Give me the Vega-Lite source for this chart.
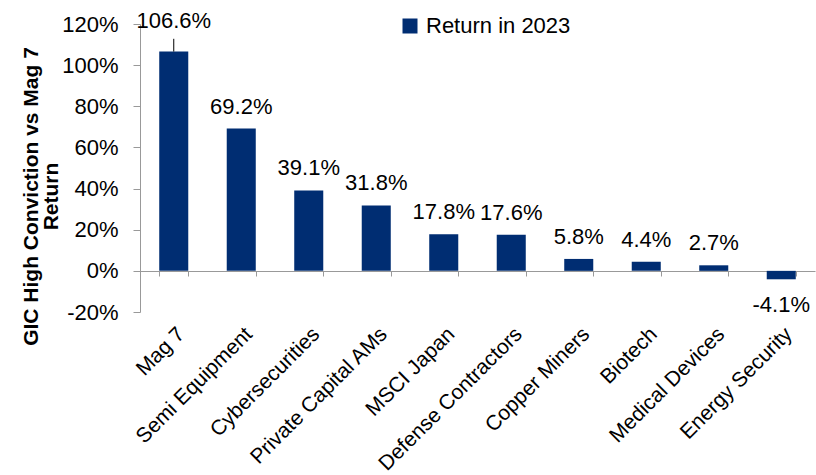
{
  "$schema": "https://vega.github.io/schema/vega-lite/v6.json",
  "width": 675,
  "height": 288,
  "autosize": {"type": "none"},
  "padding": {"left": 140, "top": 24, "right": 1, "bottom": 163},
  "background": "white",
  "config": {
    "font": "Liberation Sans",
    "view": {"stroke": null},
    "locale": {"number": {"decimal": ".", "thousands": ",", "grouping": [3], "currency": ["$", ""], "minus": "-"}},
    "axis": {"labelFont": "Liberation Sans", "labelFontSize": 22, "labelColor": "#000", "domainColor": "#999", "tickColor": "#999", "grid": false}
  },
  "data": {
    "values": [
      {"category": "Mag 7", "value": 1.066},
      {"category": "Semi Equipment", "value": 0.692},
      {"category": "Cybersecurities", "value": 0.391},
      {"category": "Private Capital AMs", "value": 0.318},
      {"category": "MSCI Japan", "value": 0.178},
      {"category": "Defense Contractors", "value": 0.176},
      {"category": "Copper Miners", "value": 0.058},
      {"category": "Biotech", "value": 0.044},
      {"category": "Medical Devices", "value": 0.027},
      {"category": "Energy Security", "value": -0.041}
    ]
  },
  "resolve": {"axis": {"x": "independent"}},
  "layer": [
    {
      "mark": {"type": "bar"},
      "encoding": {
        "x": {"field": "category", "type": "nominal", "sort": null,
          "scale": {"paddingInner": 0.57, "paddingOuter": 0.285},
          "axis": {"orient": "bottom", "offset": -41, "labels": false, "title": null, "tickBand": "extent", "tickSize": 5, "domainColor": "#999", "tickColor": "#999"}},
        "y": {"field": "value", "type": "quantitative",
          "scale": {"domain": [-0.2, 1.2], "nice": false, "zero": false},
          "axis": {"values": [-0.2, 0, 0.2, 0.4, 0.6, 0.8, 1.0, 1.2], "format": ".0%",
            "title": ["GIC High Conviction vs Mag 7", "Return"],
            "titleFont": "Liberation Sans", "titleFontSize": 21, "titleFontWeight": "bold", "titleLineHeight": 20, "titleColor": "#000",
            "titleX": -103, "titleY": 172, "titleBaseline": "alphabetic", "titleAngle": -90, "titleAlign": "center", "titleLimit": 0,
            "tickSize": 7, "labelPadding": 15}},
        "color": {"datum": "Return in 2023", "scale": {"range": ["#002D72"]},
          "legend": {"orient": "none", "legendX": 259, "legendY": -9, "title": null, "symbolType": "square", "symbolSize": 225, "symbolStrokeWidth": 0, "labelFontSize": 22, "labelFont": "Liberation Sans", "labelColor": "#000", "labelOffset": 5, "padding": 0, "labelLimit": 0}}
      }
    },
    {
      "transform": [{"filter": "datum.value >= 0 && datum.category != 'Mag 7'"}],
      "mark": {"type": "text", "fontSize": 22, "font": "Liberation Sans", "color": "#000", "baseline": "middle", "dy": -22},
      "encoding": {
        "x": {"field": "category", "type": "nominal", "sort": null,
          "axis": {"orient": "bottom", "domain": false, "ticks": false, "labelAngle": -45, "labelAlign": "right", "labelBaseline": "top", "labelPadding": 11, "labelFontSize": 21, "labelLimit": 0, "title": null}},
        "y": {"field": "value", "type": "quantitative"},
        "text": {"field": "value", "type": "quantitative", "format": ".1%"}
      }
    },
    {
      "transform": [{"filter": "datum.category == 'Mag 7'"}],
      "mark": {"type": "text", "fontSize": 22, "font": "Liberation Sans", "color": "#000", "baseline": "middle", "dy": -31},
      "encoding": {
        "x": {"field": "category", "type": "nominal", "sort": null, "axis": null},
        "y": {"field": "value", "type": "quantitative"},
        "text": {"field": "value", "type": "quantitative", "format": ".1%"}
      }
    },
    {
      "transform": [{"filter": "datum.category == 'Mag 7'"}],
      "mark": {"type": "rule", "color": "#000", "strokeWidth": 1},
      "encoding": {
        "x": {"field": "category", "type": "nominal", "sort": null, "axis": null},
        "y": {"field": "value", "type": "quantitative"},
        "y2": {"datum": 1.128}
      }
    },
    {
      "transform": [{"filter": "datum.value < 0"}],
      "mark": {"type": "text", "fontSize": 22, "font": "Liberation Sans", "color": "#000", "baseline": "middle", "dy": 26},
      "encoding": {
        "x": {"field": "category", "type": "nominal", "sort": null, "axis": null},
        "y": {"field": "value", "type": "quantitative"},
        "text": {"field": "value", "type": "quantitative", "format": ".1%"}
      }
    }
  ]
}
